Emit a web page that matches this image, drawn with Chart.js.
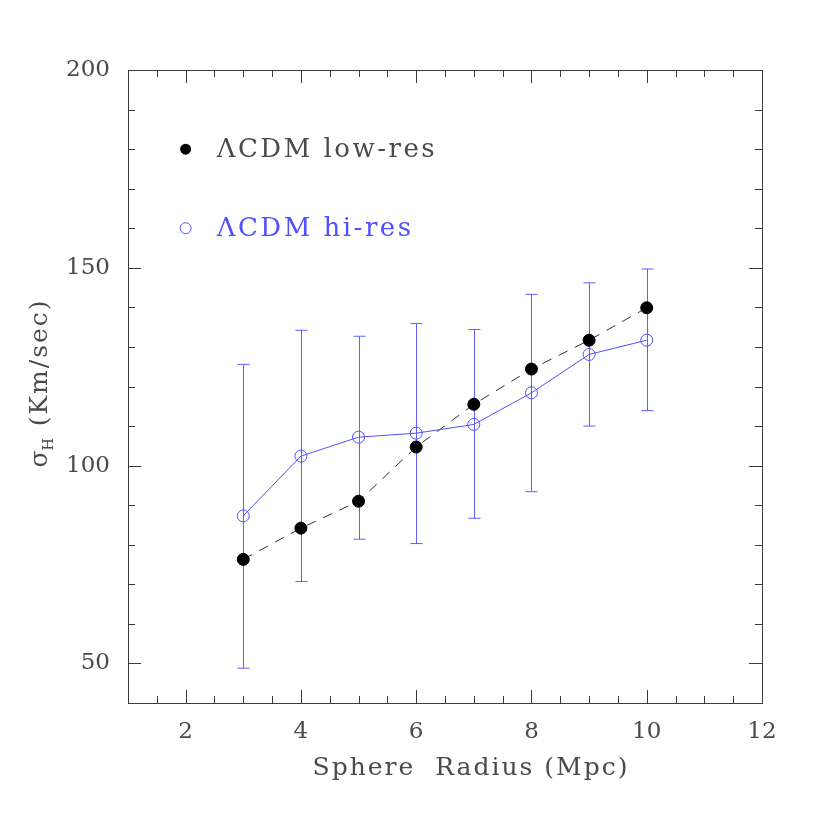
<!DOCTYPE html>
<html>
<head>
<meta charset="utf-8">
<script src="https://cdn.jsdelivr.net/npm/chart.js@4.4.0/dist/chart.umd.min.js"></script>
<style>
    html, body { margin: 0; padding: 0; background: #fff; }
    #wrap { width: 830px; height: 830px; }
</style>
</head>
<body>
<div id="wrap"><canvas id="sigmaChart" width="830" height="830"></canvas></div>
<script>
// data
const radius = [3, 4, 5, 6, 7, 8, 9, 10];
const lowRes = [76.3, 84.2, 91.0, 104.7, 115.5, 124.4, 131.7, 139.9];
const hiRes = [87.3, 102.4, 107.2, 108.2, 110.4, 118.4, 128.1, 131.7];
const hiResUpper = [125.6, 134.2, 132.7, 135.9, 134.4, 143.3, 146.2, 149.7];
const hiResLower = [48.8, 70.7, 81.4, 80.3, 86.7, 93.4, 110.0, 113.9];
const xTicks = [2, 4, 6, 8, 10, 12];
const yTicks = [50, 100, 150, 200];
const legendLabels = ['\u039BCDM low-res', '\u039BCDM hi-res'];

const BLUE = 'rgb(80, 80, 255)';
const BAR_BLUE = 'rgb(95, 95, 255)';
const INK = '#4a4a4a';
const SERIF = "'DejaVu Serif', 'Liberation Serif', serif";

function drawText(ctx, text, x, y, size, color, spacing) {
    ctx.font = size + 'px ' + SERIF;
    ctx.fillStyle = color;
    ctx.letterSpacing = spacing || '0px';
    ctx.fillText(text, x, y);
    ctx.letterSpacing = '0px';
}

const framePlugin = {
    id: 'frame',
    beforeDatasetsDraw(chart) {
        const ctx = chart.ctx;
        const xs = chart.scales.x, ys = chart.scales.y;
        ctx.save();
        ctx.strokeStyle = BAR_BLUE;
        ctx.lineWidth = 1;
        radius.forEach((r, i) => {
            const px = Math.round(xs.getPixelForValue(r)) + 0.5;
            const top = ys.getPixelForValue(hiResUpper[i]);
            const bot = ys.getPixelForValue(hiResLower[i]);
            ctx.beginPath();
            ctx.moveTo(px, top); ctx.lineTo(px, bot);
            ctx.moveTo(px - 6, top); ctx.lineTo(px + 6, top);
            ctx.moveTo(px - 6, bot); ctx.lineTo(px + 6, bot);
            ctx.stroke();
        });
        ctx.restore();
    },
    afterDraw(chart) {
        const ctx = chart.ctx;
        const a = chart.chartArea;
        const xs = chart.scales.x, ys = chart.scales.y;
        ctx.save();
        ctx.strokeStyle = '#3a3a3a';
        ctx.lineWidth = 1;
        ctx.strokeRect(Math.round(a.left) + 0.5, Math.round(a.top) + 0.5,
            Math.round(a.right - a.left), Math.round(a.bottom - a.top));

        // inward ticks on all four sides
        ctx.beginPath();
        for (let v = xs.min; v <= xs.max + 1e-9; v += 0.5) {
            const px = Math.round(xs.getPixelForValue(v)) + 0.5;
            const len = (v % 2 === 0) ? 13 : 7;
            ctx.moveTo(px, a.bottom); ctx.lineTo(px, a.bottom - len);
            ctx.moveTo(px, a.top); ctx.lineTo(px, a.top + len);
        }
        for (let v = ys.min; v <= ys.max + 1e-9; v += 10) {
            const py = Math.round(ys.getPixelForValue(v)) + 0.5;
            const len = (v % 50 === 0) ? 13 : 7;
            ctx.moveTo(a.left, py); ctx.lineTo(a.left + len, py);
            ctx.moveTo(a.right, py); ctx.lineTo(a.right - len, py);
        }
        ctx.stroke();

        // axis titles
        ctx.textBaseline = 'alphabetic';
        ctx.textAlign = 'center';
        drawText(ctx, 'Sphere  Radius (Mpc)', 471, 775, 25, INK, '2px');

        ctx.save();
        ctx.translate(47, 383);
        ctx.rotate(-Math.PI / 2);
        ctx.textAlign = 'left';
        ctx.font = '25px ' + SERIF;
        const wSig = ctx.measureText('\u03C3').width;
        ctx.font = '14px ' + SERIF;
        const wH = ctx.measureText('H').width;
        ctx.font = '25px ' + SERIF;
        ctx.letterSpacing = '2px';
        const wRest = ctx.measureText(' (Km/sec)').width;
        ctx.letterSpacing = '0px';
        let sx = -(wSig + wH + 2 + wRest) / 2;
        drawText(ctx, '\u03C3', sx, 0, 25, INK);
        sx += wSig;
        drawText(ctx, 'H', sx, 6, 14, INK);
        sx += wH + 2;
        drawText(ctx, ' (Km/sec)', sx, 0, 25, INK, '2px');
        ctx.restore();

        // legend
        const lx = xs.getPixelForValue(2);
        const ly1 = ys.getPixelForValue(180);
        const ly2 = ys.getPixelForValue(160);
        ctx.fillStyle = '#000';
        ctx.beginPath(); ctx.arc(lx, ly1, 5.5, 0, Math.PI * 2); ctx.fill();
        ctx.strokeStyle = BLUE;
        ctx.beginPath(); ctx.arc(lx, ly2, 5.5, 0, Math.PI * 2); ctx.stroke();
        ctx.textAlign = 'left';
        ctx.textBaseline = 'middle';
        drawText(ctx, legendLabels[0], lx + 31, ly1 + 1, 26, INK, '2.5px');
        drawText(ctx, legendLabels[1], lx + 31, ly2 + 1, 26, BLUE, '2.5px');
        ctx.restore();
    }
};

const ctx = document.getElementById('sigmaChart').getContext('2d');
new Chart(ctx, {
    type: 'scatter',
    data: {
        datasets: [
            {
                label: legendLabels[1],
                data: radius.map((r, i) => ({ x: r, y: hiRes[i] })),
                showLine: true,
                borderColor: BLUE,
                borderWidth: 1,
                backgroundColor: '#fff',
                pointBackgroundColor: 'rgba(255,255,255,0)',
                pointBorderColor: BLUE,
                pointBorderWidth: 1,
                pointRadius: 6,
                tension: 0
            },
            {
                label: legendLabels[0],
                data: radius.map((r, i) => ({ x: r, y: lowRes[i] })),
                showLine: true,
                borderColor: '#333',
                borderWidth: 1,
                borderDash: [10, 8],
                pointBackgroundColor: '#000',
                pointBorderColor: '#000',
                pointRadius: 6,
                tension: 0
            }
        ]
    },
    options: {
        responsive: false,
        animation: false,
        layout: { padding: { left: 0, top: 70, right: 68, bottom: 0 } },
        plugins: { legend: { display: false }, tooltip: { enabled: false } },
        scales: {
            x: {
                type: 'linear',
                min: 1,
                max: 12,
                grid: { display: false, drawTicks: false },
                border: { display: false },
                afterBuildTicks: scale => { scale.ticks = xTicks.map(v => ({ value: v })); },
                afterFit: scale => { scale.height = 127; },
                ticks: {
                    padding: 15,
                    color: INK,
                    font: { family: SERIF, size: 23 }
                }
            },
            y: {
                type: 'linear',
                min: 40,
                max: 200,
                grid: { display: false, drawTicks: false },
                border: { display: false },
                afterBuildTicks: scale => { scale.ticks = yTicks.map(v => ({ value: v })); },
                afterFit: scale => { scale.width = 128; },
                ticks: {
                    padding: 18,
                    color: INK,
                    font: { family: SERIF, size: 23 }
                }
            }
        }
    },
    plugins: [framePlugin]
});
</script>
</body>
</html>
